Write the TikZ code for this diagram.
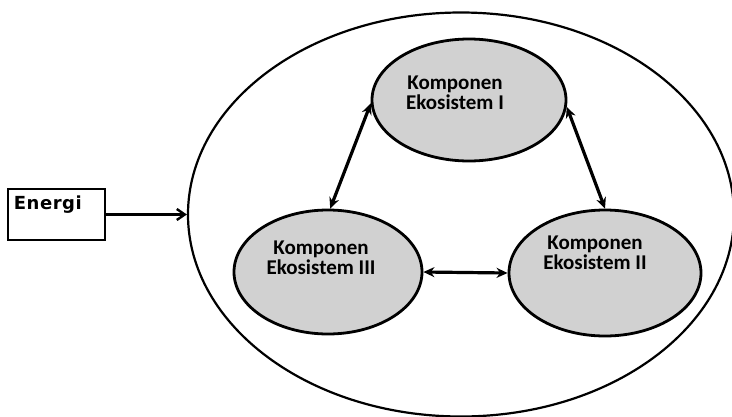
\documentclass[tikz,border=0pt]{standalone}
\usepackage{fontspec}
\setmainfont{Carlito}
\newfontfamily\energifont[LetterSpace=3]{DejaVu Sans}
\usetikzlibrary{shapes.geometric,arrows.meta}

\tikzset{
  komponen/.style={ellipse, draw=black, line width=2.8pt, fill=black!18,
    inner sep=0pt},
  kompteks/.style={font=\fontsize{21}{20}\selectfont\bfseries, align=center,
    inner sep=0pt, text=black},
  duaarah/.style={line width=3.2pt, {Stealth[length=11pt,width=10pt]}-{Stealth[length=11pt,width=10pt]}},
  sistem/.style={ellipse, draw=black, line width=2.2pt, inner sep=0pt},
  kotak/.style={draw=black, line width=2.6pt, minimum width=97pt,
    minimum height=51pt, inner sep=0pt},
  masuk/.style={line width=2.4pt, -{Straight Barb[length=8pt,width=11pt,line width=2.4pt]}}
}

\begin{document}
\begin{tikzpicture}[x=1pt,y=-1pt]
  \useasboundingbox (0,0) rectangle (732,416);

  % ecosystem boundary
  \node[sistem, minimum width=546pt, minimum height=404pt] (outer) at (461,214.5) {};

  % energy source
  \node[kotak] (energi) at (56.5,214.5) {};
  \node[anchor=base west, inner sep=0pt,
        font=\energifont\fontsize{18}{20}\selectfont\bfseries]
        (energiteks) at ([xshift=7pt,yshift=-22pt]energi.north west) {Energi};

  % components
  \node[komponen, minimum width=194pt, minimum height=122pt] (k1) at (469,100) {};
  \node[komponen, minimum width=188pt, minimum height=124pt] (k3) at (328,272) {};
  \node[komponen, minimum width=192pt, minimum height=126pt] (k2) at (605,273) {};

  \node[kompteks] (t1) at (455,93) {Komponen\\Ekosistem I};
  \node[kompteks] (t3) at (321,258) {Komponen\\Ekosistem III};
  \node[kompteks] (t2) at (595,253) {Komponen\\Ekosistem II};

  % interactions
  \draw[duaarah] (k1.182) -- (k3.88);
  \draw[duaarah] (k1.-4) -- (k2.90);
  \draw[duaarah] (k3.east) -- (k2.west);

  % energy input
  \draw[masuk] (energi.east) -- (outer.west);
\end{tikzpicture}
\end{document}
